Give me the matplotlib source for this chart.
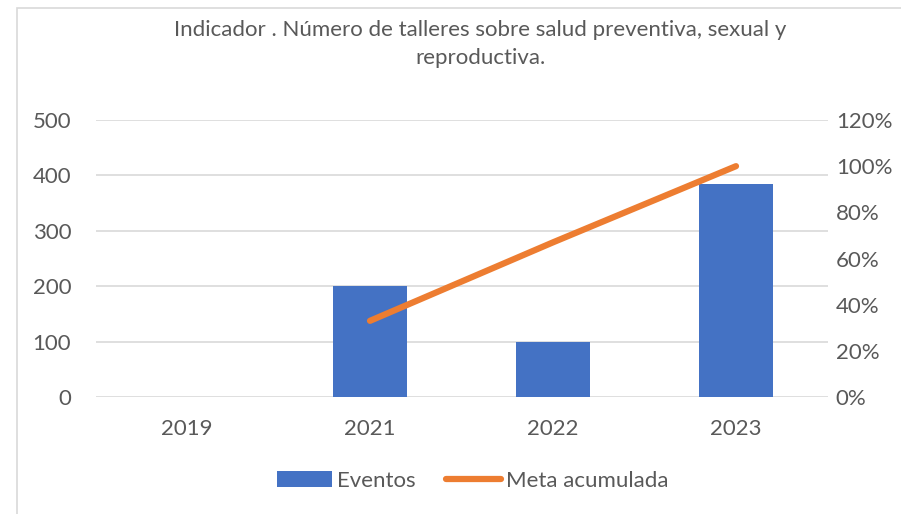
import matplotlib
matplotlib.use("Agg")
import matplotlib.pyplot as plt
from matplotlib.patches import Rectangle
from matplotlib.ticker import FuncFormatter

years = ["2019", "2021", "2022", "2023"]
eventos = [0, 200, 100, 385]
meta_years = ["2021", "2022", "2023"]
meta_acumulada = [0.33, 0.67, 1.00]

title = "Indicador . Número de talleres sobre salud preventiva, sexual y\nreproductiva."

plt.rcParams["font.family"] = ["Lato", "DejaVu Sans"]
text_color = "#595959"
grid_color = "#d9d9d9"
bar_color = "#4472c4"
line_color = "#ed7d31"
fs = 16

W, H = 901, 514
fig = plt.figure(figsize=(W / 100, H / 100), dpi=100)

# Chart frame
fig.patches.append(Rectangle((17 / W, -0.1), 1.2, (H - 8) / H + 0.1,
                             transform=fig.transFigure, fill=False,
                             edgecolor=grid_color, linewidth=1.2))

left, right = 95.5 / W, 827.5 / W
bottom, top = 1 - 397 / H, 1 - 120 / H
ax = fig.add_axes([left, bottom, right - left, top - bottom])

x = list(range(len(years)))
ax.bar(x, eventos, width=0.4, color=bar_color, zorder=3, label="Eventos")
ax.set_xlim(-0.5, len(years) - 0.5)
ax.set_ylim(0, 500)
ax.set_yticks(range(0, 501, 100))
ax.set_xticks(x)
ax.set_xticklabels(years)
ax.grid(axis="y", color=grid_color, linewidth=1.2, zorder=0)
for s in ax.spines.values():
    s.set_visible(False)
ax.tick_params(axis="both", length=0, labelsize=fs, labelcolor=text_color)
ax.tick_params(axis="y", pad=17.5)
ax.tick_params(axis="x", pad=16)

ax2 = ax.twinx()
mx = [years.index(y) for y in meta_years]
ax2.plot(mx, meta_acumulada, color=line_color, linewidth=4.5,
         solid_capstyle="round", zorder=4, label="Meta acumulada")
ax2.set_ylim(0, 1.2)
ax2.set_yticks([i / 5 for i in range(7)])
ax2.yaxis.set_major_formatter(FuncFormatter(lambda v, p: f"{round(v * 100)}%"))
for s in ax2.spines.values():
    s.set_visible(False)
ax2.tick_params(axis="y", length=0, labelsize=fs, labelcolor=text_color, pad=6)

fig.text(480 / W, 1 - 44 / H, title, ha="center", va="center",
         fontsize=fs, color=text_color, linespacing=1.5)

h1, l1 = ax.get_legend_handles_labels()
h2, l2 = ax2.get_legend_handles_labels()
fig.legend(h1 + h2, l1 + l2, loc="center", bbox_to_anchor=(473 / W, 1 - 481 / H),
           ncol=2, frameon=False, fontsize=fs, labelcolor=text_color,
           handlelength=2.45, handletextpad=0.25, columnspacing=1.35)

fig.savefig("out.png", dpi=100)
